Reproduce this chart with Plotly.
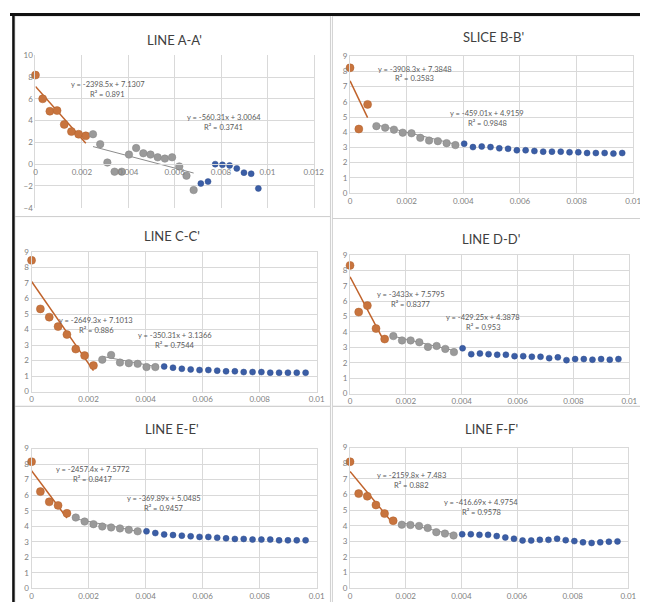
import plotly.graph_objects as go

W, H = 648, 602

# shared x positions
x_vals = [0, 0.00031, 0.00062, 0.00093, 0.00124, 0.00155, 0.00186, 0.00217,
          0.00248, 0.00279, 0.0031, 0.00341, 0.00372, 0.00403, 0.00434, 0.00465,
          0.00496, 0.00527, 0.00558, 0.00589, 0.0062, 0.00651, 0.00682, 0.00713,
          0.00744, 0.00775, 0.00806, 0.00837, 0.00868, 0.00899, 0.0093, 0.00961]

titles = ["LINE A-A'", "SLICE B-B'", "LINE C-C'", "LINE D-D'", "LINE E-E'", "LINE F-F'"]

y_a = [8.18, 6.0, 4.86, 4.92, 3.65, 2.99, 2.75, 2.6, 2.75, 1.84, 0.15, -0.69, -0.69, 0.88,
       1.48, 1.0, 0.88, 0.63, 0.51, 0.63, -0.21, -1.06, -2.38, -1.78, -1.6, 0.0, -0.06,
       -0.12, -0.39, -0.78, -0.88, -2.23]
y_b = [8.24, 4.21, 5.83, 4.40, 4.30, 4.17, 3.97, 3.93, 3.63, 3.45, 3.41, 3.28, 3.15, 3.24,
       3.02, 3.06, 3.02, 2.94, 2.91, 2.81, 2.81, 2.76, 2.72, 2.72, 2.72, 2.68, 2.68, 2.63,
       2.63, 2.63, 2.59, 2.63]
y_c = [8.46, 5.33, 4.8, 4.19, 3.68, 2.74, 2.32, 1.68, 2.06, 2.36, 1.87, 1.83, 1.79, 1.58,
       1.58, 1.62, 1.54, 1.47, 1.43, 1.39, 1.39, 1.35, 1.31, 1.31, 1.26, 1.26, 1.26, 1.22,
       1.22, 1.22, 1.22, 1.22]
y_d = [8.32, 5.29, 5.71, 4.22, 3.54, 3.73, 3.45, 3.45, 3.33, 3.03, 3.09, 2.9, 2.69, 2.94,
       2.56, 2.6, 2.56, 2.52, 2.52, 2.43, 2.43, 2.39, 2.39, 2.3, 2.35, 2.17, 2.24, 2.24,
       2.2, 2.24, 2.2, 2.24]
y_e = [8.16, 6.23, 5.57, 5.34, 4.83, 4.56, 4.3, 4.13, 3.98, 3.92, 3.86, 3.77, 3.67, 3.67,
       3.56, 3.47, 3.43, 3.39, 3.35, 3.31, 3.31, 3.26, 3.22, 3.18, 3.18, 3.14, 3.14, 3.14,
       3.09, 3.09, 3.09, 3.09]
y_f = [8.1, 6.06, 5.89, 5.33, 4.78, 4.32, 4.07, 4.05, 3.99, 3.86, 3.59, 3.5, 3.38, 3.46,
       3.46, 3.42, 3.42, 3.34, 3.25, 3.17, 3.06, 3.06, 3.1, 3.1, 3.17, 3.08, 3.02, 2.94,
       2.9, 2.94, 2.98, 3.0]
y_series = [y_a, y_b, y_c, y_d, y_e, y_f]

# number of points in the orange and gray groups
n_orange = [8, 3, 8, 5, 5, 6]
n_gray = [15, 10, 7, 8, 8, 7]

# trendline equations (slope, intercept, R²)
fit1_slope = [-2398.5, -3908.3, -2649.3, -3433, -2457.4, -2159.8]
fit1_icpt = [7.1307, 7.3848, 7.1013, 7.5795, 7.5772, 7.483]
fit1_r2 = ["0.891", "0.3583", "0.886", "0.8377", "0.8417", "0.882"]
fit2_slope = [-560.31, -459.01, -350.31, -429.25, -369.89, -416.69]
fit2_icpt = [3.0064, 4.9159, 3.1366, 4.3878, 5.0485, 4.9754]
fit2_r2 = ["0.3741", "0.9848", "0.7544", "0.953", "0.9457", "0.9578"]
fit1_txt = ["-2398.5x + 7.1307", "-3908.3x + 7.3848", "-2649.3x + 7.1013",
            "-3433x + 7.5795", "-2457.4x + 7.5772", "-2159.8x + 7.483"]
fit2_txt = ["-560.31x + 3.0064", "-459.01x + 4.9159", "-350.31x + 3.1366",
            "-429.25x + 4.3878", "-369.89x + 5.0485", "-416.69x + 4.9754"]

# axis ranges and ticks
x_max = [0.012, 0.01, 0.01, 0.01, 0.01, 0.01]
y_min = [-4, 0, 0, 0, 0, 0]
y_max = [10, 9, 9, 9, 9, 9]
y_step = [2, 1, 1, 1, 1, 1]
x_ticks_a = [0, 0.002, 0.004, 0.006, 0.008, 0.01, 0.012]
x_ticklabels_a = ["0", "0.002", "0.004", "0.006", "0.008", "0.01", "0.012"]
x_ticks = [0, 0.002, 0.004, 0.006, 0.008, 0.01]
x_ticklabels = ["0", "0.002", "0.004", "0.006", "0.008", "0.01"]

# ---------------- layout (pixels) ----------------
plot_px = [  # x0, x1, ytop, ybottom
    (26, 310, 43, 198),
    (347, 636, 44, 183),
    (22, 313, 243, 385),
    (347, 632, 246, 387),
    (22, 313, 443, 585),
    (347, 631, 442, 585),
]
title_px = [(168, 27), (493, 24), (165, 227), (491, 230), (165, 423), (491, 423)]
eq1_px = [(100, 73), (413, 57), (88, 313), (409, 286), (85, 464), (410, 470)]
eq2_px = [(218, 106), (487, 102), (168, 328), (483, 310), (157, 494), (481, 498)]
panel_box = [(5, 3, 327, 207), (329, 3, 647, 209), (5, 207, 327, 400),
             (329, 209, 647, 400), (5, 400, 327, 601), (329, 400, 647, 601)]

ORANGE = "#C8743E"
GRAY = "#9A9A9A"
BLUE = "#3B5EA6"
GRID = "#D9D9D9"
TXT = "#595959"


def px(x):
    return x / W


def py(y):
    return 1 - y / H


fig = go.Figure()
layout = dict(
    width=W, height=H, margin=dict(l=0, r=0, t=0, b=0),
    paper_bgcolor="white", plot_bgcolor="white", showlegend=False,
    font=dict(family="Lato, Open Sans, sans-serif", color=TXT),
)
annotations = []
shapes = []

for k in range(6):
    xa = "x" if k == 0 else f"x{k+1}"
    ya = "y" if k == 0 else f"y{k+1}"
    xkey = "xaxis" if k == 0 else f"xaxis{k+1}"
    ykey = "yaxis" if k == 0 else f"yaxis{k+1}"
    x0, x1, yt, yb = plot_px[k]
    ys = y_series[k]
    no, ng = n_orange[k], n_gray[k]

    # trend lines (under markers)
    ox = [x_vals[0], x_vals[no - 1]]
    fig.add_trace(go.Scatter(x=ox, y=[fit1_slope[k] * v + fit1_icpt[k] for v in ox],
                             xaxis=xa, yaxis=ya, mode="lines", cliponaxis=False,
                             line=dict(color="#C0622A", width=1.5), hoverinfo="skip"))
    gx = [x_vals[no], x_vals[no + ng - 1]]
    fig.add_trace(go.Scatter(x=gx, y=[fit2_slope[k] * v + fit2_icpt[k] for v in gx],
                             xaxis=xa, yaxis=ya, mode="lines", cliponaxis=False,
                             line=dict(color="#8C8C8C", width=1), hoverinfo="skip"))

    fig.add_trace(go.Scatter(x=x_vals[:no], y=ys[:no], xaxis=xa, yaxis=ya, mode="markers",
                             cliponaxis=False,
                             marker=dict(color=ORANGE, size=8, line=dict(color="#B0602C", width=0.5))))
    fig.add_trace(go.Scatter(x=x_vals[no:no + ng], y=ys[no:no + ng], xaxis=xa, yaxis=ya,
                             mode="markers", cliponaxis=False,
                             marker=dict(color=GRAY, size=7.5, line=dict(color="#858585", width=0.5))))
    fig.add_trace(go.Scatter(x=x_vals[no + ng:], y=ys[no + ng:], xaxis=xa, yaxis=ya,
                             mode="markers", cliponaxis=False,
                             marker=dict(color=BLUE, size=6, line=dict(color="#2E4C8C", width=0.5))))

    tv = x_ticks_a if k == 0 else x_ticks
    tt = x_ticklabels_a if k == 0 else x_ticklabels
    xaxis = dict(domain=[px(x0), px(x1)], range=[0, x_max[k]], tickvals=tv, ticktext=tt,
                 showgrid=True, gridcolor=GRID, gridwidth=1, zeroline=False,
                 showline=True, linecolor=GRID, mirror=True,
                 tickfont=dict(size=8, color="#7F7F7F"), ticks="", fixedrange=True)
    if y_min[k] < 0:
        y0px = yt + (yb - yt) * (y_max[k] - 0) / (y_max[k] - y_min[k])
        xaxis.update(anchor="free", position=py(y0px))
    else:
        xaxis.update(anchor=ya)
    layout[xkey] = xaxis
    layout[ykey] = dict(domain=[py(yb), py(yt)], range=[y_min[k], y_max[k]], anchor=xa,
                        dtick=y_step[k], tick0=y_min[k],
                        showgrid=True, gridcolor=GRID, gridwidth=1, zeroline=False,
                        showline=True, linecolor=GRID, mirror=True,
                        tickfont=dict(size=8, color="#7F7F7F"), ticks="", fixedrange=True)

    tx, ty = title_px[k]
    annotations.append(dict(x=px(tx), y=py(ty), xref="paper", yref="paper", text=titles[k],
                            showarrow=False, font=dict(size=13, color="#404040"),
                            xanchor="center", yanchor="middle"))
    for (ex, ey), eq, r2 in ((eq1_px[k], fit1_txt[k], fit1_r2[k]),
                             (eq2_px[k], fit2_txt[k], fit2_r2[k])):
        annotations.append(dict(x=px(ex), y=py(ey), xref="paper", yref="paper",
                                text=f"y = {eq}", showarrow=False,
                                font=dict(size=7.5, color=TXT), xanchor="center", yanchor="middle"))
        annotations.append(dict(x=px(ex), y=py(ey + 10), xref="paper", yref="paper",
                                text=f"R² = {r2}", showarrow=False,
                                font=dict(size=7.5, color=TXT), xanchor="center", yanchor="middle"))

    bx0, by0, bx1, by1 = panel_box[k]
    shapes.append(dict(type="rect", xref="paper", yref="paper", x0=px(bx0), x1=px(bx1),
                       y0=py(by1), y1=py(by0), line=dict(color="#D0D0D0", width=1),
                       fillcolor="rgba(0,0,0,0)", layer="below"))

# outer dark frame (top and left)
shapes.append(dict(type="line", xref="paper", yref="paper", x0=0, x1=1, y0=py(1.5), y1=py(1.5),
                   line=dict(color="#111111", width=3)))
shapes.append(dict(type="line", xref="paper", yref="paper", x0=px(3.5), x1=px(3.5), y0=0, y1=1,
                   line=dict(color="#111111", width=2.5)))

layout["annotations"] = annotations
layout["shapes"] = shapes
fig.update_layout(**layout)
fig.write_html("out.html")
